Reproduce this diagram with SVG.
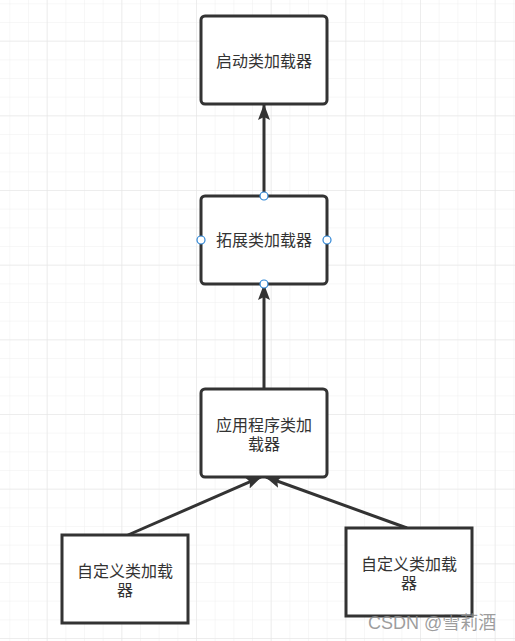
<svg xmlns="http://www.w3.org/2000/svg" width="515" height="641" viewBox="0 0 515 641">
<defs>
<style>
.node rect{fill:#fff;stroke:#333;stroke-width:3}
.node text{font-family:"Liberation Sans","Noto Sans CJK SC",sans-serif;font-size:16px;fill:#333;text-anchor:middle}
.edge{stroke:#333;stroke-width:3;fill:none}
.port{fill:#fff;stroke:#2f86d6;stroke-width:1.2}
</style>
<pattern id="minor" patternUnits="userSpaceOnUse" x="9.333" y="3.333" width="18.667" height="18.667">
<path d="M0 0V18.667M0 0H18.667" stroke="#efefef" stroke-width="1" fill="none"/>
</pattern>
<pattern id="major" patternUnits="userSpaceOnUse" x="46.667" y="40.667" width="74.667" height="74.667">
<path d="M0 0V74.667M0 0H74.667" stroke="#e3e3e3" stroke-width="1" fill="none"/>
</pattern>
<marker id="arr" viewBox="0 0 16 12" refX="15" refY="6" markerWidth="16" markerHeight="12" markerUnits="userSpaceOnUse" orient="auto">
<path d="M0 0L16 6L0 12L3 6Z" fill="#333"/>
</marker>
</defs>
<rect width="515" height="641" fill="#fff"/>
<rect width="515" height="641" fill="url(#minor)"/>
<rect width="515" height="641" fill="url(#major)"/>
<g id="connectors">
<line class="edge" x1="264" y1="196" x2="264" y2="105" marker-end="url(#arr)"/>
<line class="edge" x1="264" y1="389" x2="264" y2="285" marker-end="url(#arr)"/>
<line class="edge" x1="128" y1="535" x2="261" y2="477" marker-end="url(#arr)"/>
<line class="edge" x1="407" y1="528" x2="266" y2="477" marker-end="url(#arr)"/>
</g>
<g id="node-bootstrap" class="node">
<rect x="201" y="16" width="126" height="88" rx="4"/>
<text x="264" y="67">启动类加载器</text>
</g>
<g id="node-extension" class="node">
<rect x="201" y="196" width="126" height="88" rx="4"/>
<text x="264" y="246">拓展类加载器</text>
<circle class="port" cx="264" cy="196" r="4"/>
<circle class="port" cx="201" cy="240" r="4"/>
<circle class="port" cx="327" cy="240" r="4"/>
<circle class="port" cx="264" cy="284" r="4"/>
</g>
<g id="node-application" class="node">
<rect x="201" y="389" width="126" height="88" rx="4"/>
<text x="264" y="431">应用程序类加</text>
<text x="264" y="450">载器</text>
</g>
<g id="node-custom1" class="node">
<rect x="62" y="535" width="126" height="88"/>
<text x="125" y="577">自定义类加载</text>
<text x="125" y="596">器</text>
</g>
<g id="node-custom2" class="node">
<rect x="346" y="528" width="126" height="88"/>
<text x="409" y="570">自定义类加载</text>
<text x="409" y="589">器</text>
</g>
<text x="368" y="629" font-family="Liberation Sans,Noto Sans CJK SC,sans-serif" font-size="18" fill="#8c8c8c" fill-opacity="0.85">CSDN @雪莉酒</text>
</svg>
